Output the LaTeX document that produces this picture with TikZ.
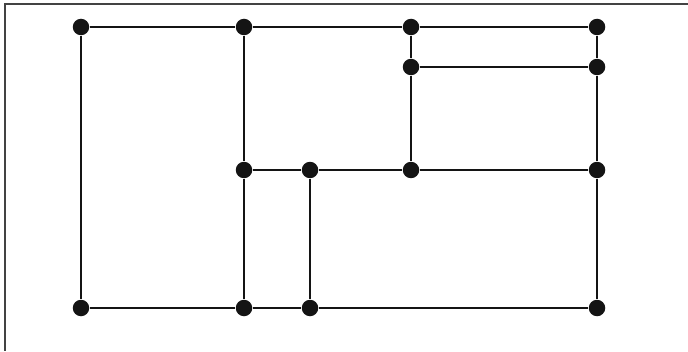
\documentclass[tikz,border=0pt]{standalone}
\usepackage{tikz}
\usetikzlibrary{positioning}
\definecolor{ink}{RGB}{20,20,20}

\begin{document}
\begin{tikzpicture}[
  x=0.02cm, y=-0.02cm,
  dot/.style={circle, fill=ink, inner sep=0pt, minimum size=0.33cm},
  edge/.style={draw=ink, line width=0.6pt},
  frame/.style={draw=ink!80, line width=1pt},
]
  \useasboundingbox (0,0) rectangle (688,351);
  \coordinate (tl) at (5,4);
  \coordinate (tr) at (688,4);
  \coordinate (bl) at (5,351);
  \draw[frame] (tr) -- (tl) -- (bl);

  % top row
  \node[dot] (t1) at (81,27) {};
  \node[dot] (t2) at (244,27) {};
  \node[dot] (t3) at (411,27) {};
  \node[dot] (t4) at (597,27) {};
  % upper right box
  \node[dot] (u1) at (411,67) {};
  \node[dot] (u2) at (597,67) {};
  % middle row
  \node[dot] (m1) at (244,170) {};
  \node[dot] (m2) at (310,170) {};
  \node[dot] (m3) at (411,170) {};
  \node[dot] (m4) at (597,170) {};
  % bottom row
  \node[dot] (b1) at (81,308) {};
  \node[dot] (b2) at (244,308) {};
  \node[dot] (b3) at (310,308) {};
  \node[dot] (b4) at (597,308) {};

  \path[edge] (t1) -- (t2) -- (t3) -- (t4);
  \path[edge] (b1) -- (b2) -- (b3) -- (b4);
  \path[edge] (m1) -- (m2) -- (m3) -- (m4);
  \path[edge] (u1) -- (u2);
  \path[edge] (t1) -- (b1);
  \path[edge] (t2) -- (m1) -- (b2);
  \path[edge] (t3) -- (u1) -- (m3);
  \path[edge] (m2) -- (b3);
  \path[edge] (t4) -- (u2) -- (m4) -- (b4);
\end{tikzpicture}
\end{document}
